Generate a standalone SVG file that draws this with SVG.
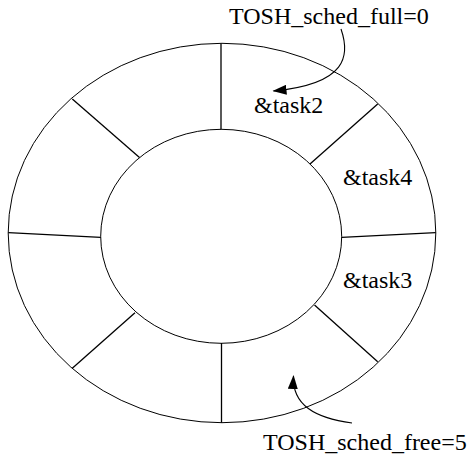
<svg xmlns="http://www.w3.org/2000/svg" width="467" height="457" viewBox="0 0 467 457">
<style>
.ring{fill:none;stroke:#000;stroke-width:1}
.spoke{stroke:#000;stroke-width:1.3;fill:none}
.lbl{font-family:"Liberation Serif","Times New Roman",serif;font-size:24px;fill:#000}
.conn{fill:none;stroke:#000;stroke-width:1.1}
</style>
<defs>
<marker id="ah" viewBox="0 0 14 10" refX="13" refY="5" markerWidth="14" markerHeight="10" markerUnits="userSpaceOnUse" orient="auto">
<path d="M0,0 L14,5 L0,10 Z" fill="#000"/>
</marker>
</defs>
<rect width="467" height="457" fill="#fff"/>
<g id="ring-buffer">
<ellipse class="ring" cx="222" cy="233" rx="213.8" ry="189.7"/>
<ellipse class="ring" cx="221.2" cy="236.3" rx="120.5" ry="107"/>
<line class="spoke" x1="221" y1="43.5" x2="221" y2="129.5"/>
<line class="spoke" x1="221.5" y1="343" x2="221.5" y2="422.7"/>
<line class="spoke" x1="8.3" y1="232.7" x2="100.8" y2="237.3"/>
<line class="spoke" x1="341.7" y1="237.3" x2="435.7" y2="232.7"/>
<line class="spoke" x1="72.3" y1="99" x2="139.5" y2="157.5"/>
<line class="spoke" x1="310" y1="164" x2="377.7" y2="104"/>
<line class="spoke" x1="135" y1="312.7" x2="72.3" y2="368.3"/>
<line class="spoke" x1="314.5" y1="305" x2="377.7" y2="361.7"/>
</g>
<g id="label-full"><text class="lbl" x="229" y="24">TOSH_sched_full=0</text></g>
<g id="label-task2"><text class="lbl" x="254" y="113">&amp;task2</text></g>
<g id="label-task4"><text class="lbl" x="343" y="185">&amp;task4</text></g>
<g id="label-task3"><text class="lbl" x="343" y="288">&amp;task3</text></g>
<g id="label-free"><text class="lbl" x="263" y="450">TOSH_sched_free=5</text></g>
<g id="connectors">
<path class="conn" d="M341,29 C350,55 348,84 273.5,91" marker-end="url(#ah)"/>
<path class="conn" d="M352,423 C315,418 292,405 293.5,376" marker-end="url(#ah)"/>
</g>
</svg>
